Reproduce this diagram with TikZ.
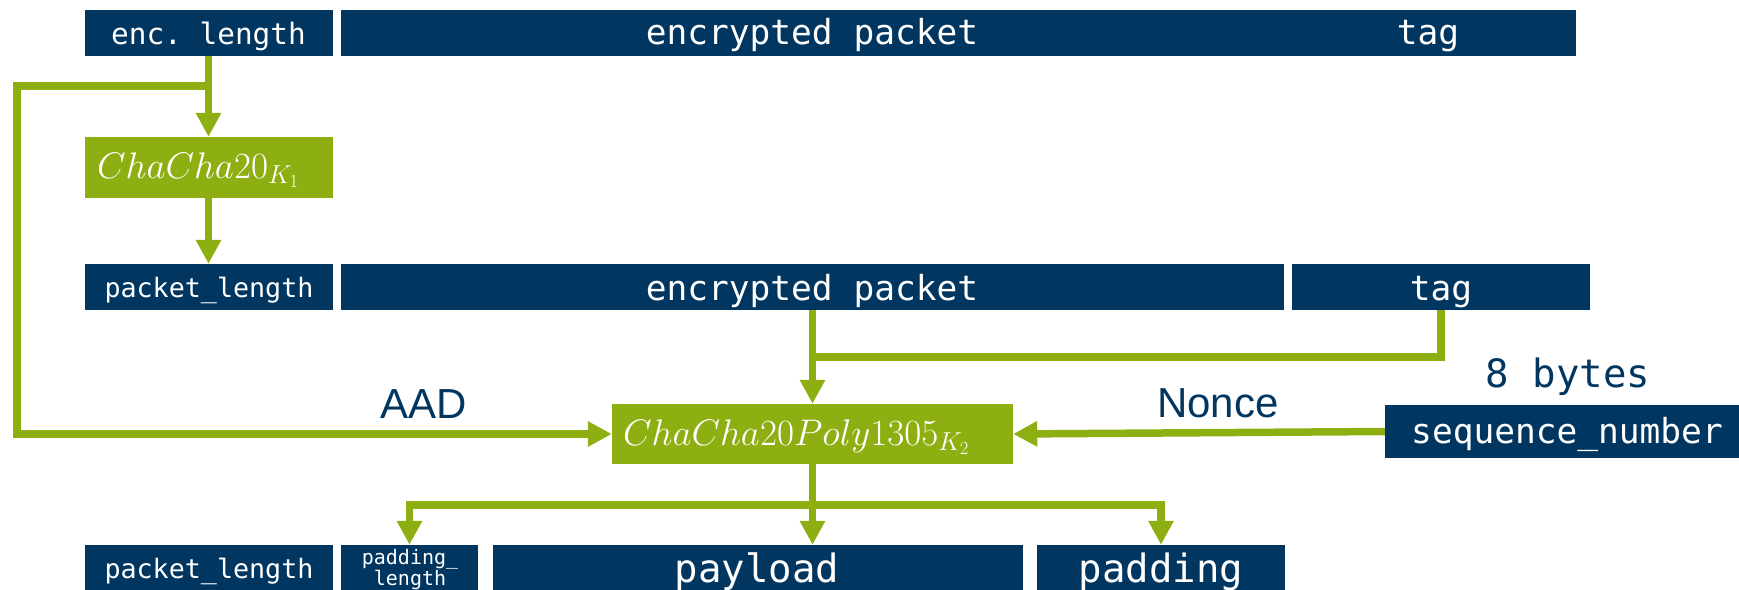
\RequirePackage{fix-cm}
\documentclass[tikz,border=0pt]{standalone}
\usepackage{fontspec}
\setmonofont{DejaVu Sans Mono}
\setsansfont{Liberation Sans}
\usetikzlibrary{arrows.meta}

\definecolor{navy}{RGB}{0,54,96}
\definecolor{leaf}{RGB}{141,175,17}

\tikzset{
  field/.style={fill=navy, inner sep=0pt, minimum height=46pt},
  cipher/.style={fill=leaf, inner sep=0pt},
  lbl/.style={text=white, inner sep=0pt, anchor=base,
              font=\ttfamily\fontsize{#1}{#1}\selectfont},
  mathlbl/.style={text=white, inner sep=0pt, anchor=base west,
              font=\fontsize{37}{40}\selectfont},
  caption/.style={text=navy, inner sep=0pt, anchor=base,
              font=\sffamily\fontsize{42}{42}\selectfont},
  wire/.style={draw=leaf, line width=7.5pt, line join=miter},
  flow/.style={wire, -{Triangle[width=24pt,length=24pt]}},
}

\begin{document}
\begin{tikzpicture}[x=1pt, y=-1pt]
  \useasboundingbox (0,0) rectangle (1739,589);
  \clip (0,0) rectangle (1739,589);

  % received packet
  \node[field, minimum width=248pt]  (enclen) at (208.5,33) {};
  \node[field, minimum width=1235pt] (encpkt1) at (958.5,33) {};
  \node[lbl=29.4] (t-enclen) at (208.5,44) {enc.\ length};
  \node[lbl=34.5] (t-enc1) at (812,44) {encrypted packet};
  \node[lbl=34.5] (t-tag1) at (1428,44) {tag};

  % length decryption
  \node[cipher, minimum width=248pt, minimum height=61pt] (cc1) at (208.5,167.5) {};
  \node[mathlbl] (t-cc1) at (97,178) {$ChaCha20_{K_1}$};

  % packet with decrypted length
  \node[field, minimum width=248pt] (pktlen2) at (208.5,287) {};
  \node[field, minimum width=943pt] (encpkt2) at (812.5,287) {};
  \node[field, minimum width=298pt] (tag2) at (1441,287) {};
  \node[lbl=26.7] (t-pl2) at (209,297.5) {packet\_length};
  \node[lbl=34.5] (t-enc2) at (812,300) {encrypted packet};
  \node[lbl=34.5] (t-tag2) at (1441,300) {tag};

  % AEAD
  \node[cipher, minimum width=401pt, minimum height=60pt] (cc2) at (812.5,434) {};
  \node[mathlbl] (t-cc2) at (623,445) {$ChaCha20Poly1305_{K_2}$};
  \node[field, minimum width=364pt, minimum height=53pt] (seq) at (1567,431.5) {};
  \node[lbl=34.5] (t-seq) at (1567,443) {sequence\_number};
  \node[lbl=39, text=navy] (bytes) at (1568,387) {8 bytes};
  \node[caption] (aad) at (424,418) {AAD};
  \node[caption] (nonce) at (1218,417) {Nonce};

  % plaintext packet
  \node[field, minimum width=248pt] (pktlen3) at (208.5,568) {};
  \node[field, minimum width=137pt] (padlen) at (409.5,568) {};
  \node[field, minimum width=530pt] (payload) at (758,568) {};
  \node[field, minimum width=248pt] (padding) at (1161,568) {};
  \node[lbl=26.7] (t-pl3) at (209,578) {packet\_length};
  \node[text=white, inner sep=0pt, anchor=north, align=center,
        font=\ttfamily\fontsize{20}{21}\selectfont] (t-padlen) at (410,549) {padding\_\\length};
  \node[lbl=39] (t-pay) at (757,582) {payload};
  \node[lbl=39] (t-pad) at (1161,582) {padding};

  % connectors
  \coordinate (split1) at (208.5,86);
  \coordinate (lft) at (17,86);
  \coordinate (join) at (812.5,357);
  \coordinate (split2) at (812.5,505);

  \draw[flow] (enclen) -- (cc1);
  \draw[flow] (split1) -- (lft) |- (cc2.west);
  \draw[flow] (cc1) -- (pktlen2);
  \draw[flow] (encpkt2) -- (cc2);
  \draw[wire] (tag2.south) |- (join);
  \draw[flow] (seq.west) -- (cc2.east);
  \draw[flow] (cc2.south) -- (cc2.south |- payload.north);
  \draw[flow] (split2) -| (padlen.north);
  \draw[flow] (split2) -| (padding.north);
\end{tikzpicture}
\end{document}
